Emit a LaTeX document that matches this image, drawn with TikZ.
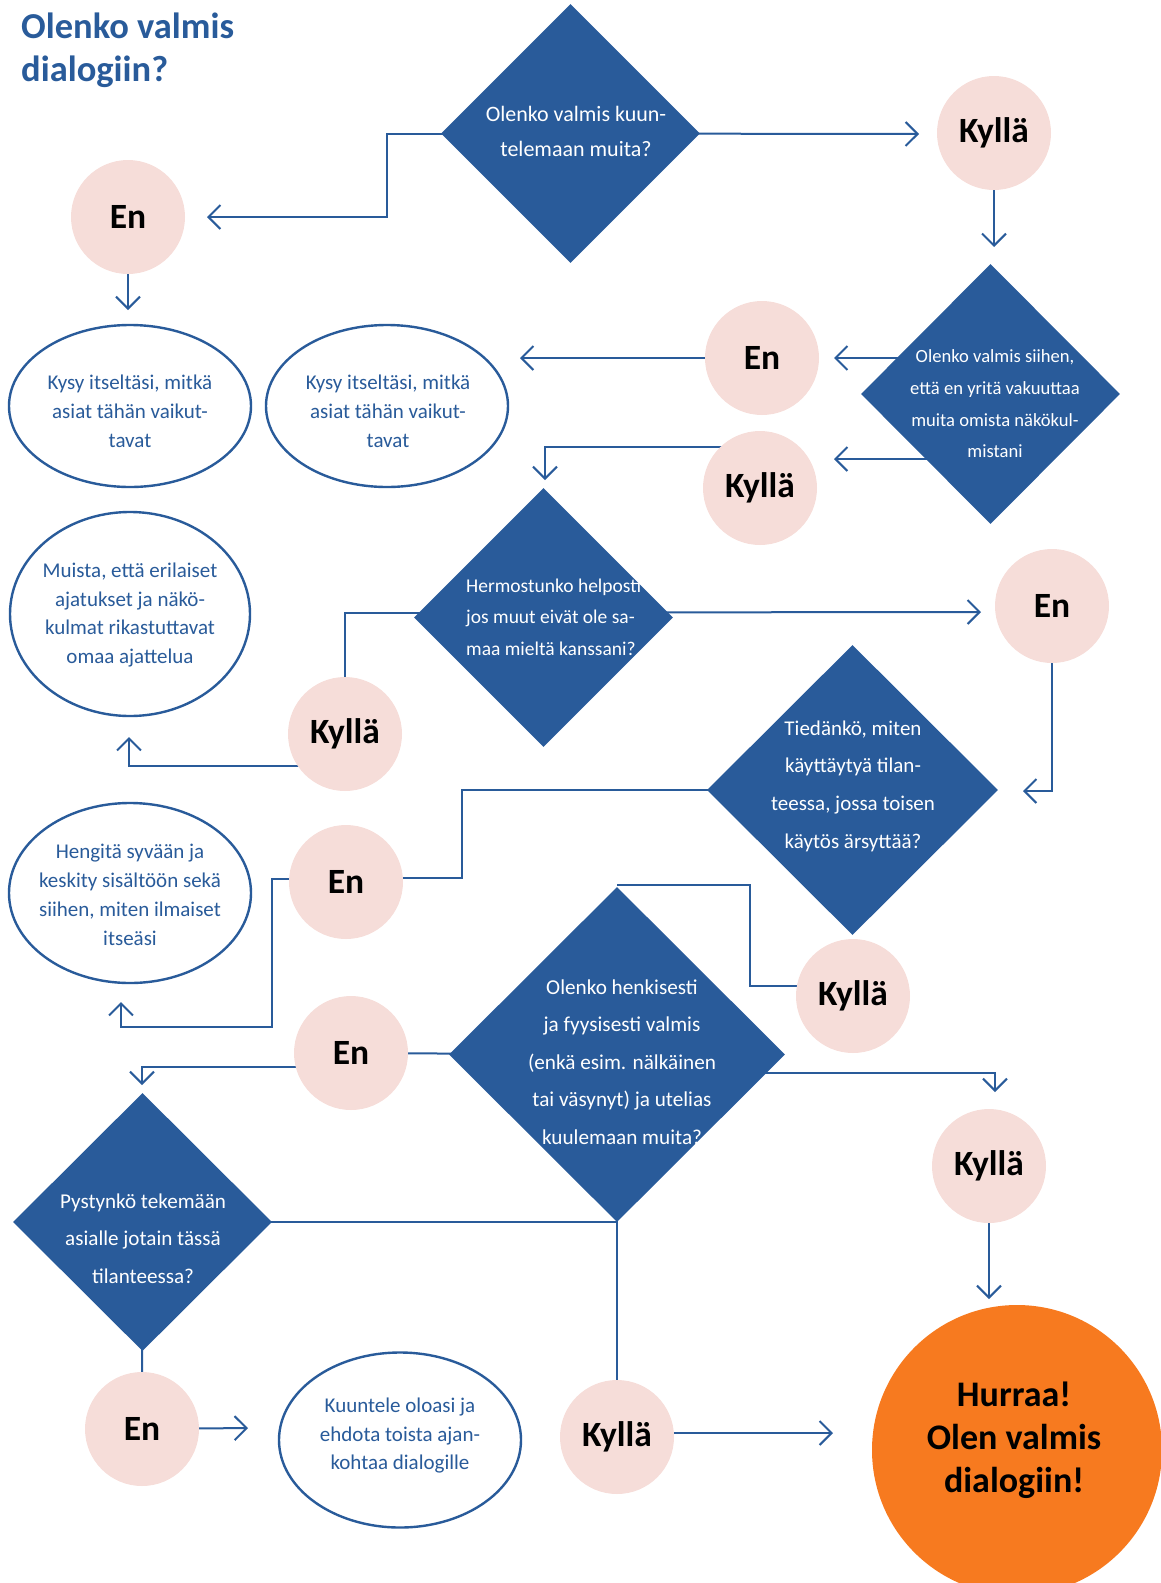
\documentclass[tikz,border=0pt]{standalone}
\usepackage{fontspec}
\setmainfont{Carlito}
\usetikzlibrary{shapes.geometric,arrows.meta,calc}
\definecolor{dblue}{RGB}{41,91,154}
\definecolor{pinkc}{RGB}{246,221,217}
\definecolor{orangec}{RGB}{247,122,31}
\pgfdeclarelayer{bg}
\pgfsetlayers{bg,main}
\tikzset{
  yesno/.style={circle, fill=pinkc, minimum size=114pt, inner sep=0pt, text=black,
    font=\fontsize{35.5}{40}\selectfont\bfseries},
  qbox/.style={diamond, fill=dblue, inner sep=0pt},
  qtext/.style={text=white, align=center, inner sep=0pt},
  oval/.style={ellipse, draw=dblue, line width=2.4pt, fill=white, inner sep=0pt},
  ovaltext/.style={text=dblue, align=center, inner sep=0pt, font=\fontsize{21}{28.8}\selectfont},
  conn/.style={draw=dblue, line width=2pt},
  arr/.style={conn, -{Straight Barb[length=12pt,width=24pt]}},
}
\begin{document}
\begin{tikzpicture}[x=1pt,y=-1pt]
\useasboundingbox (0,0) rectangle (1161,1583);
% title
\node[anchor=west, inner sep=0pt, align=left, text=dblue, font=\fontsize{36.5}{43}\selectfont\bfseries] (title) at (21,50) {Olenko valmis\\dialogiin?};
% diamonds
\node[qbox, minimum width=259pt, minimum height=259pt] (q1) at (570.5,133.5) {};
\node[qbox, minimum width=259pt, minimum height=260pt] (q2) at (990.5,394) {};
\node[qbox, minimum width=259pt, minimum height=259pt] (q3) at (543.5,617.5) {};
\node[qbox, minimum width=291pt, minimum height=290pt] (q4) at (852.5,790) {};
\node[qbox, minimum width=336pt, minimum height=335pt] (q5) at (617,1054.5) {};
\node[qbox, minimum width=259pt, minimum height=258pt] (q6) at (142.5,1222) {};
% diamond texts
\node[qtext, font=\fontsize{22}{35}\selectfont] (q1t) at (576,131) {Olenko valmis kuun-\\telemaan muita?};
\node[qtext, font=\fontsize{18.6}{31.7}\selectfont] (q2t) at (995,404) {Olenko valmis siihen,\\että en yritä vakuuttaa\\muita omista näkökul-\\mistani};
\node[qtext, align=left, anchor=west, font=\fontsize{19.5}{31.5}\selectfont] (q3t) at (466,617) {Hermostunko helposti\\jos muut eivät ole sa-\\maa mieltä kanssani?};
\node[qtext, font=\fontsize{21}{37.7}\selectfont] (q4t) at (853,786) {Tiedänkö, miten\\käyttäytyä tilan-\\teessa, jossa toisen\\käytös ärsyttää?};
\node[qtext, font=\fontsize{21.2}{37.5}\selectfont] (q5t) at (622,1062) {Olenko henkisesti\\ja fyysisesti valmis\\(enkä esim. nälkäinen\\tai väsynyt) ja utelias\\kuulemaan muita?};
\node[qtext, font=\fontsize{21.1}{37.5}\selectfont] (q6t) at (143,1238.5) {Pystynkö tekemään\\asialle jotain tässä\\tilanteessa?};
% yes / no circles
\node[yesno] (kyl1) at (994,133) {Kyllä};
\node[yesno] (en1) at (128,217) {En};
\node[yesno] (en2) at (762,358) {En};
\node[yesno] (kyl2) at (760,488) {Kyllä};
\node[yesno] (en3) at (1052,606) {En};
\node[yesno] (kyl3) at (345,734) {Kyllä};
\node[yesno] (en4) at (346,882) {En};
\node[yesno] (kyl4) at (853,996) {Kyllä};
\node[yesno] (en5) at (351,1053) {En};
\node[yesno] (kyl5) at (989,1166) {Kyllä};
\node[yesno] (en6) at (142,1429) {En};
\node[yesno] (kyl6) at (617,1437) {Kyllä};
% ellipses
\node[oval, minimum width=242pt, minimum height=162pt] (el1) at (130,406) {};
\node[oval, minimum width=242pt, minimum height=162pt] (el2) at (387,406) {};
\node[oval, minimum width=240pt, minimum height=204pt] (el3) at (130,614) {};
\node[oval, minimum width=242pt, minimum height=180pt] (el4) at (130,893) {};
\node[oval, minimum width=242pt, minimum height=175pt] (el5) at (400,1440) {};
\node[ovaltext] (el1t) at (130,411) {Kysy itseltäsi, mitkä\\asiat tähän vaikut-\\tavat};
\node[ovaltext] (el2t) at (388,411) {Kysy itseltäsi, mitkä\\asiat tähän vaikut-\\tavat};
\node[ovaltext] (el3t) at (130,615) {Muista, että erilaiset\\ajatukset ja näkö-\\kulmat rikastuttavat\\omaa ajattelua};
\node[ovaltext] (el4t) at (130,895) {Hengitä syvään ja\\keskity sisältöön sekä\\siihen, miten ilmaiset\\itseäsi};
\node[ovaltext] (el5t) at (400,1435.5) {Kuuntele oloasi ja\\ehdota toista ajan-\\kohtaa dialogille};
% final
\node[circle, fill=orangec, minimum size=290pt, inner sep=0pt] (fin) at (1017,1450) {};
\node[align=center, inner sep=0pt, font=\fontsize{36}{43}\selectfont\bfseries] (fint) at (1014,1440) {Hurraa!\\Olen valmis\\dialogiin!};
% connectors
\begin{pgfonlayer}{bg}
\coordinate (b1) at (387,217);
\coordinate (t1) at (207,217);
\coordinate (t2) at (919,134);
\coordinate (t3) at (994,247);
\coordinate (t4) at (834,358);
\coordinate (t5) at (834,459);
\coordinate (t6) at (520,358);
\coordinate (t7) at (545,480);
\coordinate (t8) at (128,310);
\coordinate (t9) at (981,612);
\coordinate (t11) at (129,737);
\coordinate (t12) at (1023,791);
\coordinate (b13) at (462,878);
\coordinate (b14) at (272,1027);
\coordinate (t14) at (121,1002);
\coordinate (b15) at (750,885);
\coordinate (t16) at (995,1092);
\coordinate (t18) at (142,1085);
\coordinate (t21) at (248,1428);
\coordinate (t22) at (833,1433);
\coordinate (t23) at (989,1299);
\draw[arr] (q1.center) -| (b1) -- (t1);
\draw[arr] (q1.center) -- (t2);
\draw[arr] (kyl1.center) -- (t3);
\draw[arr] (q2.center |- en2.center) -- (t4);
\draw[arr] ($(q2.center)+(0,65)$) -- (t5);
\draw[arr] (en2.center) -- (t6);
\draw[arr] ($(kyl2.center)+(0,-41)$) -| (t7);
\draw[arr] (en1.center) -- (t8);
\draw[arr] ($(q3.center)+(0,-5)$) -- (t9);
\draw[conn] (kyl3.center) |- ($(q3.center)+(0,-5)$);
\draw[arr] ($(kyl3.center)+(0,32)$) -| (t11);
\draw[arr] (en3.center) |- (t12);
\draw[conn] (q4.center) -| (b13) -- (b13 -| en4.center);
\draw[arr] ($(en4.center)+(0,-3)$) -| (b14) -| (t14);
\draw[conn] ($(kyl4.center)+(0,-10)$) -| (b15) -- (b15 -| q5.north);
\draw[arr] ($(q5.center)+(0,18)$) -| (t16);
\draw[conn] (en5.center) -- (q5.center);
\draw[arr] ($(en5.center)+(0,14)$) -| (t18);
\draw[conn] (q6.center) -| (kyl6.center);
\draw[conn] (q6.center) -- (en6.center);
\draw[arr] (en6.center) -- (t21);
\draw[arr] ($(kyl6.center)+(0,-4)$) -- (t22);
\draw[arr] (kyl5.center) -- (t23);
\end{pgfonlayer}
\end{tikzpicture}
\end{document}
